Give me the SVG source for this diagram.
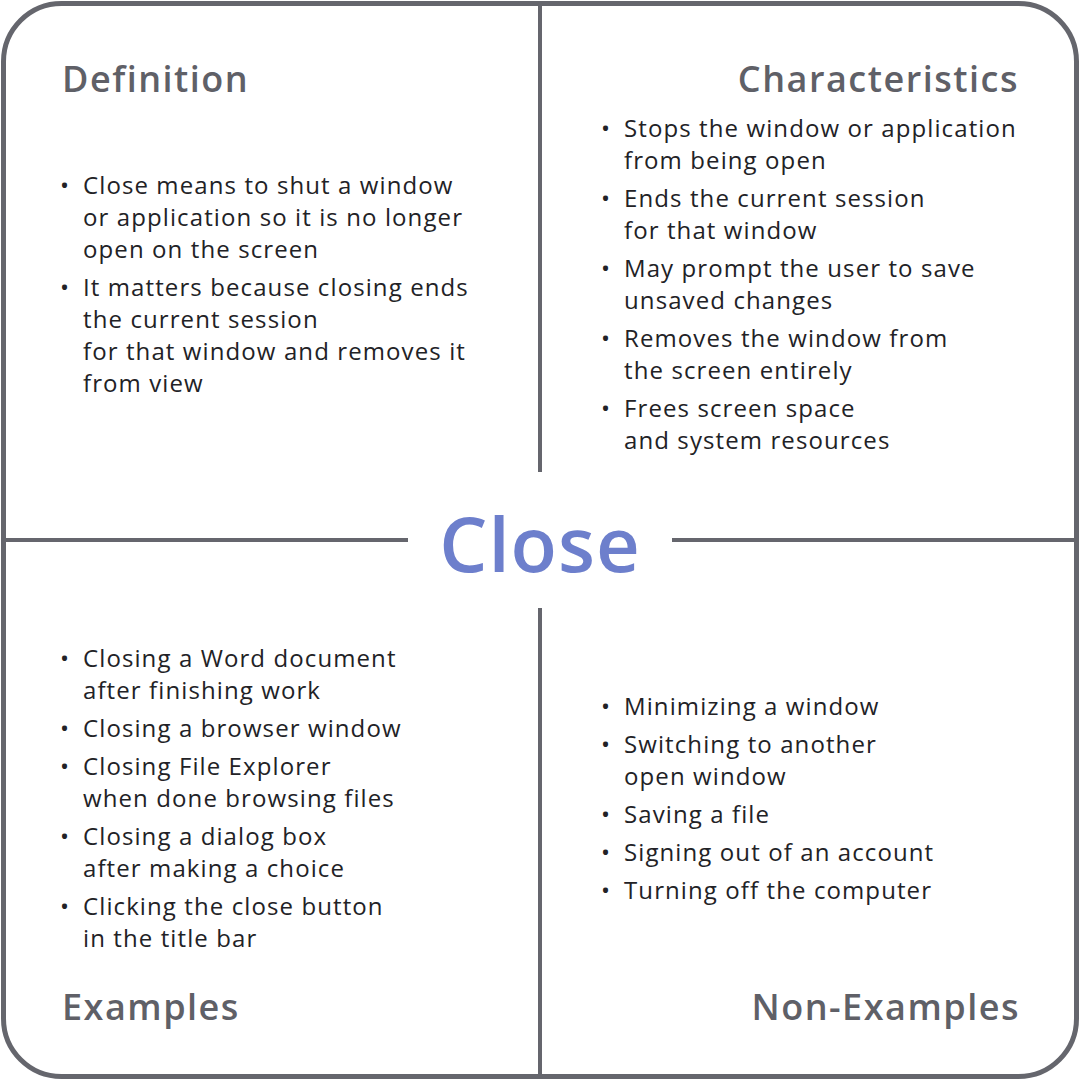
<svg xmlns="http://www.w3.org/2000/svg" width="1080" height="1080" viewBox="0 0 1080 1080">
<style>
.frame{fill:#fff;stroke:#65666d;stroke-width:5}
.div{stroke:#65666d;stroke-width:4;fill:none}
.h{font-family:"Open Sans","Liberation Sans",sans-serif;font-size:36px;font-weight:600;fill:#5f6067;letter-spacing:1.5px}
.b{font-family:"Open Sans","Liberation Sans",sans-serif;font-size:24px;fill:#222226;letter-spacing:1.1px}
.t{font-family:"Open Sans","Liberation Sans",sans-serif;font-size:76px;font-weight:600;fill:#6d7fcc;letter-spacing:1px}
.r{text-anchor:end}
</style>
<rect class="frame" x="3.5" y="3.5" width="1073" height="1073" rx="58"/>
<g id="connectors">
<line class="div" x1="540" y1="4" x2="540" y2="472"/>
<line class="div" x1="540" y1="608" x2="540" y2="1076"/>
<line class="div" x1="4" y1="540" x2="408" y2="540"/>
<line class="div" x1="672" y1="540" x2="1076" y2="540"/>
</g>
<g id="center"><text class="t" x="540" y="572" text-anchor="middle">Close</text></g>
<g id="definition">
<text class="h" x="62" y="92">Definition</text>
<text class="b" x="60" y="194">•</text>
<text class="b" x="83" y="194">Close means to shut a window</text>
<text class="b" x="83" y="226">or application so it is no longer</text>
<text class="b" x="83" y="258">open on the screen</text>
<text class="b" x="60" y="296">•</text>
<text class="b" x="83" y="296">It matters because closing ends</text>
<text class="b" x="83" y="328">the current session</text>
<text class="b" x="83" y="360">for that window and removes it</text>
<text class="b" x="83" y="392">from view</text>
</g>
<g id="characteristics">
<text class="h r" x="1019" y="92">Characteristics</text>
<text class="b" x="601" y="137">•</text>
<text class="b" x="624" y="137">Stops the window or application</text>
<text class="b" x="624" y="169">from being open</text>
<text class="b" x="601" y="207">•</text>
<text class="b" x="624" y="207">Ends the current session</text>
<text class="b" x="624" y="239">for that window</text>
<text class="b" x="601" y="277">•</text>
<text class="b" x="624" y="277">May prompt the user to save</text>
<text class="b" x="624" y="309">unsaved changes</text>
<text class="b" x="601" y="347">•</text>
<text class="b" x="624" y="347">Removes the window from</text>
<text class="b" x="624" y="379">the screen entirely</text>
<text class="b" x="601" y="417">•</text>
<text class="b" x="624" y="417">Frees screen space</text>
<text class="b" x="624" y="449">and system resources</text>
</g>
<g id="examples">
<text class="b" x="60" y="667">•</text>
<text class="b" x="83" y="667">Closing a Word document</text>
<text class="b" x="83" y="699">after finishing work</text>
<text class="b" x="60" y="737">•</text>
<text class="b" x="83" y="737">Closing a browser window</text>
<text class="b" x="60" y="775">•</text>
<text class="b" x="83" y="775">Closing File Explorer</text>
<text class="b" x="83" y="807">when done browsing files</text>
<text class="b" x="60" y="845">•</text>
<text class="b" x="83" y="845">Closing a dialog box</text>
<text class="b" x="83" y="877">after making a choice</text>
<text class="b" x="60" y="915">•</text>
<text class="b" x="83" y="915">Clicking the close button</text>
<text class="b" x="83" y="947">in the title bar</text>
<text class="h" x="62" y="1020">Examples</text>
</g>
<g id="non-examples">
<text class="b" x="601" y="715">•</text>
<text class="b" x="624" y="715">Minimizing a window</text>
<text class="b" x="601" y="753">•</text>
<text class="b" x="624" y="753">Switching to another</text>
<text class="b" x="624" y="785">open window</text>
<text class="b" x="601" y="823">•</text>
<text class="b" x="624" y="823">Saving a file</text>
<text class="b" x="601" y="861">•</text>
<text class="b" x="624" y="861">Signing out of an account</text>
<text class="b" x="601" y="899">•</text>
<text class="b" x="624" y="899">Turning off the computer</text>
<text class="h r" x="1020" y="1020">Non-Examples</text>
</g>
</svg>
